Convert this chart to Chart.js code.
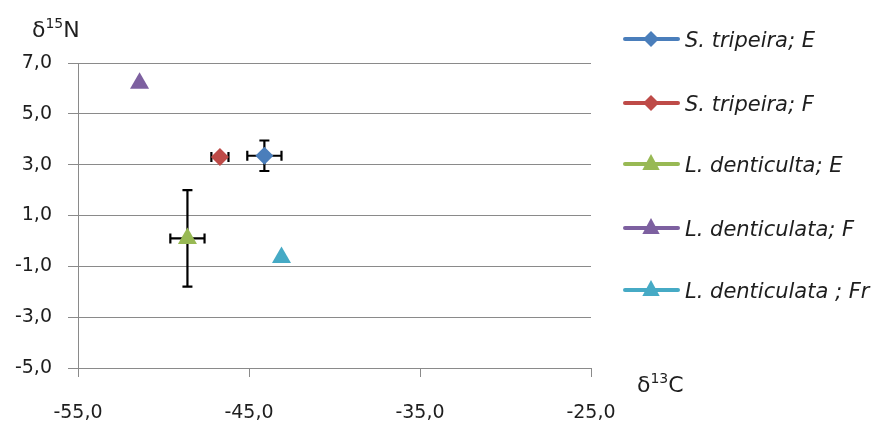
<!DOCTYPE html>
<html lang="en">
<head>
    <meta charset="UTF-8">
    <title>d13C / d15N</title>
    <script src="https://cdn.jsdelivr.net/npm/chart.js"></script>
    <style>
        body { margin: 0; background: #fff; }
    </style>
</head>
<body>
    <canvas id="isoChart" width="872" height="424"></canvas>

    <script>
        // series
        const seriesNames = ['S. tripeira; E', 'S. tripeira; F', 'L. denticulta; E', 'L. denticulata; F', 'L. denticulata ; Fr'];
        const d13C = [-44.1, -46.7, -48.6, -51.4, -43.1];
        const d15N = [3.35, 3.3, 0.1, 6.2, -0.65];
        const errC = [1.0, 0.5, 1.0, 0, 0];
        const errN = [0.6, 0.1, 1.9, 0, 0];
        const colors = ['#4A7EBB', '#BE4B48', '#98B954', '#7D60A0', '#46AAC5'];
        const shapes = ['rectRot', 'rectRot', 'triangle', 'triangle', 'triangle'];

        const xTicks = [-55, -45, -35, -25];
        const yTicks = [-5, -3, -1, 1, 3, 5, 7];

        const gridColor = '#8a8a8a';
        const textColor = '#1e1e1e';
        const fontFamily = '"DejaVu Sans"';
        const fmt = v => v.toFixed(1).replace('.', ',');

        const datasets = seriesNames.map((name, i) => ({
            label: name,
            data: [{ x: d13C[i], y: d15N[i], ex: errC[i], ey: errN[i] }],
            backgroundColor: colors[i],
            borderColor: colors[i],
            pointStyle: shapes[i],
            pointRadius: shapes[i] === 'rectRot' ? 9 : 11,
            pointBorderWidth: 0,
            showLine: false
        }));

        // black error bars with caps, drawn under the markers
        const errorBars = {
            id: 'errorBars',
            beforeDatasetsDraw(chart) {
                const ctx = chart.ctx;
                const xs = chart.scales.x, ys = chart.scales.y;
                const cap = 5;
                ctx.save();
                ctx.strokeStyle = '#000';
                ctx.lineWidth = 2.2;
                chart.data.datasets.forEach(ds => {
                    ds.data.forEach(p => {
                        const px = xs.getPixelForValue(p.x);
                        const py = ys.getPixelForValue(p.y);
                        ctx.beginPath();
                        if (p.ex) {
                            const l = xs.getPixelForValue(p.x - p.ex);
                            const r = xs.getPixelForValue(p.x + p.ex);
                            ctx.moveTo(l, py); ctx.lineTo(r, py);
                            ctx.moveTo(l, py - cap); ctx.lineTo(l, py + cap);
                            ctx.moveTo(r, py - cap); ctx.lineTo(r, py + cap);
                        }
                        if (p.ey) {
                            const t = ys.getPixelForValue(p.y + p.ey);
                            const b = ys.getPixelForValue(p.y - p.ey);
                            ctx.moveTo(px, t); ctx.lineTo(px, b);
                            ctx.moveTo(px - cap, t); ctx.lineTo(px + cap, t);
                            ctx.moveTo(px - cap, b); ctx.lineTo(px + cap, b);
                        }
                        ctx.stroke();
                    });
                });
                ctx.restore();
            }
        };

        function drawDelta(ctx, x, y, sup, letter) {
            ctx.font = '22px ' + fontFamily;
            ctx.fillText('δ', x, y);
            x += ctx.measureText('δ').width;
            ctx.font = '14px ' + fontFamily;
            ctx.fillText(sup, x, y - 9);
            x += ctx.measureText(sup).width;
            ctx.font = '22px ' + fontFamily;
            ctx.fillText(letter, x, y);
        }

        // axis titles and the legend on the right
        const extras = {
            id: 'extras',
            afterDraw(chart) {
                const ctx = chart.ctx;
                ctx.save();
                ctx.fillStyle = textColor;
                ctx.textBaseline = 'alphabetic';
                drawDelta(ctx, 32, 37, '15', 'N');
                drawDelta(ctx, 637, 392, '13', 'C');

                const legendY = [39, 103, 164, 228, 290];
                seriesNames.forEach((name, i) => {
                    const y = legendY[i];
                    ctx.strokeStyle = colors[i];
                    ctx.lineWidth = 4;
                    ctx.lineCap = 'round';
                    ctx.beginPath();
                    ctx.moveTo(625, y); ctx.lineTo(678, y);
                    ctx.stroke();
                    ctx.fillStyle = colors[i];
                    ctx.beginPath();
                    if (shapes[i] === 'rectRot') {
                        const r = 8;
                        ctx.moveTo(651, y - r); ctx.lineTo(651 + r, y);
                        ctx.lineTo(651, y + r); ctx.lineTo(651 - r, y);
                    } else {
                        const r = 10;
                        ctx.moveTo(651, y - r);
                        ctx.lineTo(651 + r * 0.866, y + r / 2 + 1);
                        ctx.lineTo(651 - r * 0.866, y + r / 2 + 1);
                    }
                    ctx.closePath();
                    ctx.fill();
                    ctx.fillStyle = textColor;
                    ctx.font = 'italic 21px ' + fontFamily;
                    ctx.textBaseline = 'alphabetic';
                    ctx.fillText(name, 685, y + 8);
                });
                ctx.restore();
            }
        };

        const ctx = document.getElementById('isoChart').getContext('2d');
        const isoChart = new Chart(ctx, {
            type: 'scatter',
            data: { datasets: datasets },
            plugins: [errorBars, extras],
            options: {
                responsive: false,
                animation: false,
                devicePixelRatio: 1,
                layout: { padding: { top: 63, right: 281, left: 0, bottom: 0 } },
                plugins: {
                    legend: { display: false },
                    tooltip: { enabled: false }
                },
                scales: {
                    x: {
                        type: 'linear',
                        min: xTicks[0],
                        max: xTicks[xTicks.length - 1],
                        afterBuildTicks: s => { s.ticks = xTicks.map(v => ({ value: v })); },
                        afterFit: s => { s.height = 56; },
                        grid: { drawOnChartArea: false, color: gridColor, tickLength: 9 },
                        border: { color: gridColor },
                        ticks: {
                            padding: 25,
                            color: textColor,
                            font: { family: fontFamily, size: 19 },
                            maxRotation: 0,
                            callback: v => fmt(v)
                        }
                    },
                    y: {
                        type: 'linear',
                        min: yTicks[0],
                        max: yTicks[yTicks.length - 1],
                        afterBuildTicks: s => { s.ticks = yTicks.map(v => ({ value: v })); },
                        afterFit: s => { s.width = 78; },
                        grid: { color: gridColor, tickLength: 10 },
                        border: { color: gridColor },
                        ticks: {
                            padding: 16,
                            color: textColor,
                            font: { family: fontFamily, size: 19 },
                            callback: v => fmt(v)
                        }
                    }
                }
            }
        });
    </script>
</body>
</html>
